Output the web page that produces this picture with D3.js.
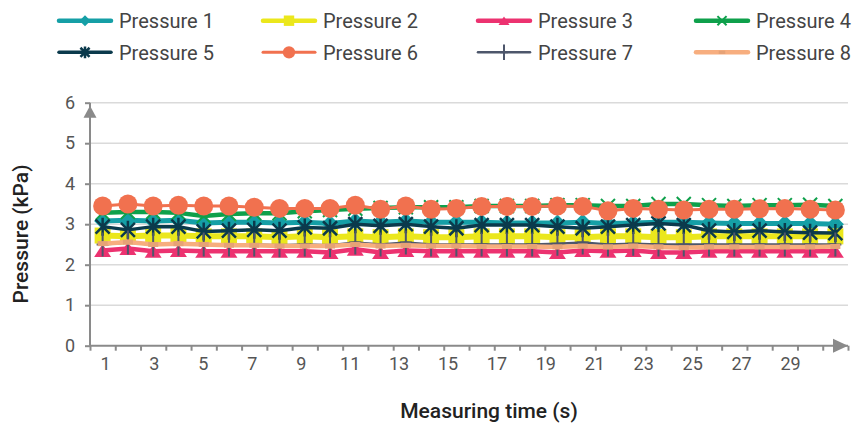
<!DOCTYPE html>
<html><head><meta charset="utf-8">
<script src="https://cdn.jsdelivr.net/npm/d3@7"></script>
<style>body{margin:0;background:#fff;} svg{display:block;font-family:Roboto, sans-serif;}</style>
</head><body>
<svg id="chart" width="858" height="425"></svg>
<script>
const categories = [1,2,3,4,5,6,7,8,9,10,11,12,13,14,15,16,17,18,19,20,21,22,23,24,25,26,27,28,29,30];
const xTickLabels = ["1","3","5","7","9","11","13","15","17","19","21","23","25","27","29"];
const yTicks = [0,1,2,3,4,5,6];
const seriesNames = ["Pressure 1","Pressure 2","Pressure 3","Pressure 4","Pressure 5","Pressure 6","Pressure 7","Pressure 8"];
const pressure1 = [3.08,3.1,3.08,3.1,3.03,3.05,3.05,3.03,3.05,3.02,3.08,3.05,3.08,3.05,3.05,3.05,3.03,3.03,3.03,3.05,3.02,3.03,3.05,3.05,3.03,3.02,3.02,3.02,3.02,3.0];
const pressure2 = [2.72,2.7,2.72,2.72,2.7,2.7,2.7,2.68,2.7,2.68,2.7,2.68,2.7,2.68,2.68,2.7,2.7,2.7,2.68,2.68,2.7,2.7,2.68,2.68,2.7,2.7,2.7,2.7,2.7,2.7];
const pressure3 = [2.35,2.4,2.33,2.35,2.33,2.33,2.33,2.33,2.33,2.3,2.38,2.3,2.35,2.33,2.33,2.33,2.33,2.33,2.3,2.35,2.33,2.35,2.3,2.3,2.33,2.33,2.33,2.33,2.33,2.33];
const pressure4 = [3.28,3.3,3.3,3.28,3.2,3.25,3.27,3.27,3.32,3.35,3.38,3.4,3.42,3.42,3.42,3.45,3.45,3.45,3.47,3.47,3.45,3.45,3.5,3.5,3.47,3.45,3.47,3.47,3.48,3.45];
const pressure5 = [2.94,2.86,2.94,2.94,2.82,2.84,2.86,2.84,2.92,2.9,3.0,2.96,3.0,2.94,2.9,2.98,2.98,2.98,2.94,2.9,2.94,2.98,3.02,2.98,2.84,2.81,2.84,2.81,2.79,2.78];
const pressure6 = [3.45,3.5,3.45,3.47,3.45,3.45,3.42,3.39,3.39,3.39,3.47,3.37,3.45,3.37,3.39,3.44,3.44,3.44,3.45,3.44,3.33,3.39,3.37,3.35,3.37,3.37,3.38,3.39,3.37,3.35];
const pressure7 = [2.5,2.55,2.5,2.52,2.5,2.5,2.5,2.48,2.5,2.48,2.55,2.5,2.55,2.5,2.5,2.5,2.5,2.5,2.52,2.55,2.5,2.52,2.5,2.5,2.5,2.5,2.5,2.5,2.5,2.5];
const pressure8 = [2.52,2.56,2.5,2.52,2.5,2.48,2.48,2.46,2.46,2.46,2.5,2.46,2.48,2.46,2.46,2.45,2.45,2.45,2.44,2.46,2.44,2.46,2.44,2.42,2.44,2.44,2.44,2.44,2.44,2.45];
const seriesValues = [pressure1,pressure2,pressure3,pressure4,pressure5,pressure6,pressure7,pressure8];
const seriesColors = ["#159fa6","#ebe71c","#ec3270","#0ea04b","#0b3a4c","#f1714f","#4d566b","#f7ae7f"];
const seriesMarkers = ["diamond","square","triangle","x","star","circle","plus","dash"];
const seriesWidths = [5,6,4.5,4.5,3.5,3,2.5,4.5];
const xTitle = "Measuring time (s)";
const yTitle = "Pressure (kPa)";

(function () {
const svg = d3.select("#chart");
const pLeft = 90, pRight = 848, pBottom = 345.7, pTop = 102.7;
const x = d3.scaleBand().domain(categories).range([pLeft, pRight]);
const xc = c => x(c) + x.bandwidth()/2;
const xEdge = d3.scaleLinear().domain([0, categories.length]).range([pLeft, pRight]);
const xLab = d3.scalePoint().domain(xTickLabels).range([105, 790]);
const y = d3.scaleLinear().domain([0, 6]).range([pBottom, pTop]);
const axisColor = "#8a8a8a";

// gridlines
svg.append("g").selectAll("line").data(yTicks.slice(1)).join("line")
  .attr("x1", pLeft).attr("x2", pRight).attr("y1", d => y(d)).attr("y2", d => y(d))
  .attr("stroke", "#dadada").attr("stroke-width", 1.5);

// y axis
const ya = svg.append("g").attr("transform", `translate(${pLeft},0)`)
  .call(d3.axisLeft(y).tickValues(yTicks).tickSize(5).tickPadding(10).tickFormat(d3.format("d")));
ya.select(".domain").attr("stroke", axisColor).attr("stroke-width", 2).attr("d", `M0,${pBottom}V${pTop}`);
ya.selectAll(".tick line").attr("stroke", axisColor).attr("stroke-width", 2);
ya.selectAll(".tick text").attr("fill", "#555").style("font-size", "18px").style("font-family", "Roboto");
svg.append("path").attr("d", `M${pLeft},${pTop+3}L${pLeft+6.5},${pTop+15}L${pLeft-6.5},${pTop+15}Z`).attr("fill", axisColor);

// x axis ticks at boundaries
const xa = svg.append("g").attr("transform", `translate(0,${pBottom})`)
  .call(d3.axisBottom(xEdge).tickValues(d3.range(0, categories.length + 1)).tickSize(5).tickFormat(""));
xa.select(".domain").attr("stroke", axisColor).attr("stroke-width", 2).attr("d", `M${pLeft},0H${pRight}`);
xa.selectAll(".tick line").attr("stroke", axisColor).attr("stroke-width", 2);
svg.append("path").attr("d", `M${pRight},${pBottom}L${pRight-15},${pBottom-7}L${pRight-15},${pBottom+7}Z`).attr("fill", axisColor);

// x labels
const xl = svg.append("g").attr("transform", `translate(0,${pBottom})`)
  .call(d3.axisBottom(xLab).tickSize(0).tickPadding(12));
xl.select(".domain").remove();
xl.selectAll(".tick text").attr("fill", "#555").style("font-size", "18px").style("font-family", "Roboto");

// titles
svg.append("text").attr("x", 489).attr("y", 418).attr("text-anchor", "middle")
  .attr("fill", "#222").style("font-size", "21px").style("font-weight", 500).text(xTitle);
svg.append("text").attr("transform", "translate(28,234) rotate(-90)").attr("text-anchor", "middle")
  .attr("fill", "#222").style("font-size", "21px").style("font-weight", 500).text(yTitle);

function drawMarker(g, type, color, s) {
  if (type === "diamond") {
    const h = 8.5*s;
    g.append("path").attr("d", `M0,${-h}L${h},0L0,${h}L${-h},0Z`).attr("fill", color);
  } else if (type === "square") {
    const h = 8*s;
    g.append("rect").attr("x", -h).attr("y", -h).attr("width", 2*h).attr("height", 2*h).attr("fill", color);
  } else if (type === "triangle") {
    const w = 8.5*s, h = 6.5*s;
    g.append("path").attr("d", `M0,${-h}L${w},${h}L${-w},${h}Z`).attr("fill", color);
  } else if (type === "x") {
    const h = 7*s;
    g.append("path").attr("d", `M${-h},${-h}L${h},${h}M${h},${-h}L${-h},${h}`).attr("stroke", color).attr("stroke-width", 2).attr("fill", "none");
  } else if (type === "star") {
    const h = 9*s, d = 7*s;
    g.append("path").attr("d", `M0,${-h}L0,${h}M${-d},${-d}L${d},${d}M${d},${-d}L${-d},${d}`).attr("stroke", color).attr("stroke-width", 2.5).attr("fill", "none");
  } else if (type === "circle") {
    g.append("circle").attr("r", 9.5*s).attr("fill", color);
  } else if (type === "plus") {
    const h = 12*s, w = 6*s;
    g.append("path").attr("d", `M0,${-h}L0,${h}M${-w},0L${w},0`).attr("stroke", color).attr("stroke-width", 2).attr("fill", "none");
  } else if (type === "dash") {
    g.append("rect").attr("x", -5*s).attr("y", -2.5*s).attr("width", 10*s).attr("height", 5*s).attr("fill", d3.color(color).darker(0.2));
  }
}

const line = d3.line().x((d, i) => xc(categories[i])).y(d => y(d));
const plot = svg.append("g");
seriesValues.forEach((vals, k) => {
  const g = plot.append("g");
  g.append("path").attr("d", line(vals)).attr("fill", "none")
    .attr("stroke", seriesColors[k]).attr("stroke-width", seriesWidths[k]).attr("stroke-linejoin", "round");
  vals.forEach((v, i) => {
    const m = g.append("g").attr("transform", `translate(${xc(categories[i])},${y(v)})`);
    drawMarker(m, seriesMarkers[k], seriesColors[k], 1);
  });
});

// legend
const legX = [119, 323, 538, 756];
const legY = [20.7, 52.3];
seriesNames.forEach((name, k) => {
  const tx = legX[k % 4], ty = legY[Math.floor(k / 4)];
  const g = svg.append("g");
  g.append("line").attr("x1", tx - 60).attr("x2", tx - 8).attr("y1", ty).attr("y2", ty)
    .attr("stroke", seriesColors[k]).attr("stroke-width", Math.min(seriesWidths[k], 4.5)).attr("stroke-linecap", "round");
  const m = g.append("g").attr("transform", `translate(${tx - 34},${ty})`);
  drawMarker(m, seriesMarkers[k], seriesColors[k], 0.65);
  g.append("text").attr("x", tx).attr("y", ty).attr("dy", "0.36em").attr("fill", "#444")
    .style("font-size", "20px").style("font-weight", 400).text(name);
});
})();
</script>
</body></html>
